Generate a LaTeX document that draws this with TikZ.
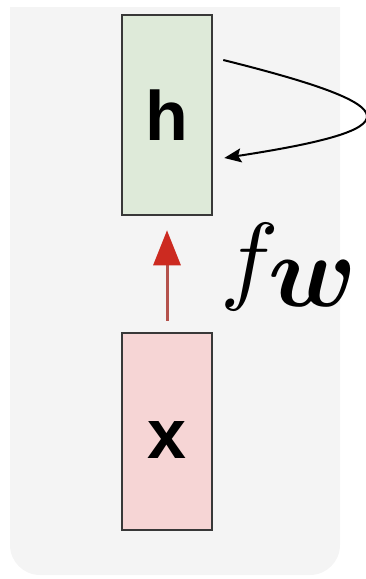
\documentclass[tikz,border=0pt]{standalone}
\usepackage{fontspec}
\usepackage{amsmath,bm,graphicx}
\setmainfont{Liberation Sans}
\usetikzlibrary{arrows.meta}
\definecolor{bggray}{HTML}{F4F4F4}
\definecolor{hgreen}{HTML}{DEEAD9}
\definecolor{xpink}{HTML}{F6D5D5}
\definecolor{boxline}{HTML}{383838}
\definecolor{arrowline}{HTML}{B4524C}
\definecolor{arrowhead}{HTML}{CC2A20}
\tikzset{
  unitbox/.style={draw=boxline, line width=2.5pt, minimum width=90pt, inner sep=0pt,
    font=\fontsize{70}{70}\selectfont\bfseries},
  inarrow/.style={draw=arrowline, line width=3pt, -{Triangle[length=35pt,width=27pt,color=arrowhead]}},
  looparrow/.style={draw=black, line width=2pt, -{Stealth[length=17pt,width=14pt,inset=3pt]}}
}
\begin{document}
\begin{tikzpicture}[x=1pt,y=1pt]
\useasboundingbox (0,0) rectangle (365,-579);
\fill[bggray] (10,-7) -- (340,-7) -- (340,-545) arc[start angle=0,end angle=-90,radius=30]
  -- (40,-575) arc[start angle=270,end angle=180,radius=30] -- cycle;
\node[unitbox, fill=hgreen, minimum height=200pt] (h) at (167,-115) {h};
\node[unitbox, fill=xpink, minimum height=197pt, text height=54pt] (x) at (167,-431.5) {x};
\draw[inarrow, shorten <=11pt, shorten >=14pt] (x.north) -- (h.south);
\coordinate (ls) at ([shift={(10,55)}]h.east);
\coordinate (le) at ([shift={(11,-43)}]h.east);
\draw[looparrow] (ls) .. controls (412,-107) and (413,-129) .. (le);
\node[anchor=base west, inner sep=0pt] (fw) at (220,-306)
  {\raisebox{15pt}{\scalebox{9.8}{$f$}}\kern-10pt\scalebox{10.3}{$\bm{w}$}};
\end{tikzpicture}
\end{document}
